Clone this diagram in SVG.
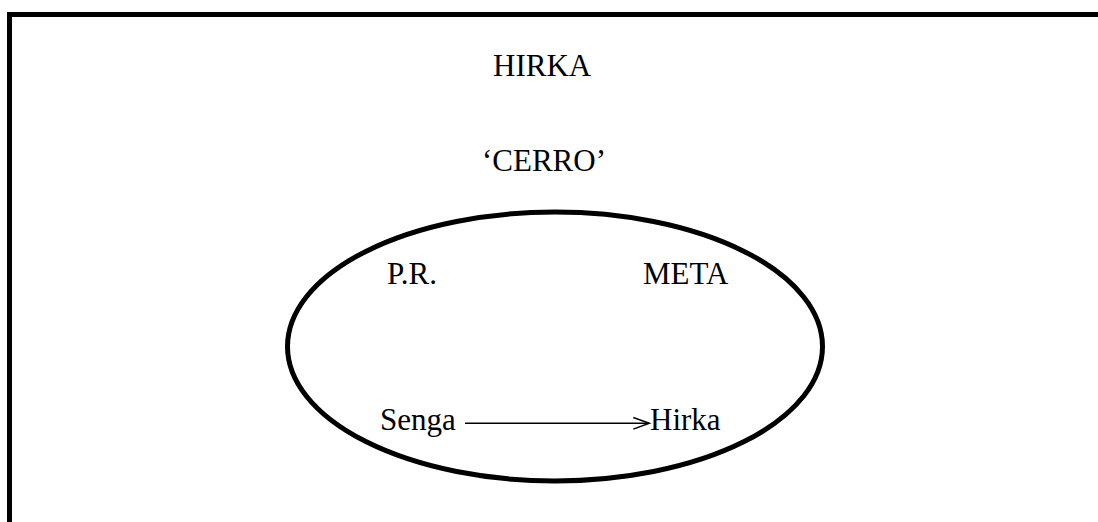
<svg xmlns="http://www.w3.org/2000/svg" width="1098" height="522" viewBox="0 0 1098 522">
<style>
text{font-family:"Liberation Serif","Times New Roman",serif;font-size:31px;fill:#000}
.frame{fill:none;stroke:#000;stroke-width:5}
.ell{fill:none;stroke:#000;stroke-width:5}
.conn{fill:none;stroke:#000;stroke-width:1.5}
</style>
<rect x="0" y="0" width="1098" height="522" fill="#fff"/>
<g id="frame"><path class="frame" d="M9.5 522 V14.5 H1098"/></g>
<g id="title-hirka"><text x="493" y="76">HIRKA</text></g>
<g id="title-cerro"><text x="482" y="171">‘CERRO’</text></g>
<g id="ellipse"><ellipse class="ell" cx="555" cy="346.5" rx="267.5" ry="134.5"/></g>
<g id="node-pr"><text x="387" y="284">P.R.</text></g>
<g id="node-meta"><text x="643" y="284">META</text></g>
<g id="node-senga"><text x="380" y="430">Senga</text></g>
<g id="node-hirka"><text x="650" y="430">Hirka</text></g>
<g id="connectors">
<path class="conn" d="M465 423.3 H649"/>
<path class="conn" d="M633.3 417.5 L649.3 423.3 L633.3 429.1"/>
</g>
</svg>
